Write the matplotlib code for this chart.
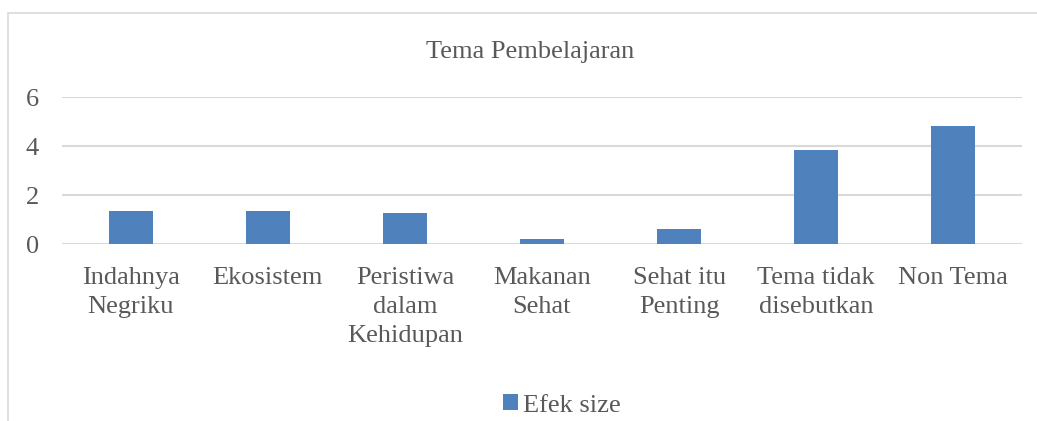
import matplotlib.pyplot as plt
from matplotlib.patches import Rectangle

categories = ["Indahnya\nNegriku", "Ekosistem", "Peristiwa\ndalam\nKehidupan",
              "Makanan\nSehat", "Sehat itu\nPenting", "Tema tidak\ndisebutkan", "Non Tema"]
efek_size = [1.35, 1.37, 1.27, 0.20, 0.62, 3.84, 4.83]
y_ticks = [0, 2, 4, 6]

plt.rcParams['font.family'] = 'serif'
plt.rcParams['font.serif'] = ['Liberation Serif', 'DejaVu Serif']
grey = '#595959'

fig = plt.figure(figsize=(10.37, 4.21), dpi=100)
ax = fig.add_axes([0.0598, 0.4197, 0.9257, 0.3494])

ax.bar(range(len(categories)), efek_size, width=0.32, color='#4f81bd', label='Efek size', zorder=3)
ax.set_xlim(-0.5, len(categories) - 0.5)
ax.set_ylim(0, 6)
ax.set_yticks(y_ticks)
ax.set_xticks(range(len(categories)))
ax.set_xticklabels(categories, linespacing=1.44)
ax.tick_params(axis='both', length=0, labelsize=19, labelcolor=grey)
ax.tick_params(axis='y', pad=16.5)
ax.tick_params(axis='x', pad=16)
ax.grid(axis='y', color='#d9d9d9', linewidth=1.5, zorder=0)
for s in ax.spines.values():
    s.set_visible(False)

fig.text(0.511, 0.877, 'Tema Pembelajaran', ha='center', va='center', fontsize=19, color=grey)

fig.patches.append(Rectangle((0.0075, -0.1), 1.2, 1.07, transform=fig.transFigure,
                             fill=False, edgecolor='#d9d9d9', linewidth=1.2))

leg = fig.legend(loc='center', bbox_to_anchor=(0.542, 0.037), frameon=False, fontsize=19,
                 handlelength=0.55, handleheight=0.55, handletextpad=0.2)
for t in leg.get_texts():
    t.set_color(grey)

fig.savefig('out.png', dpi=100)
